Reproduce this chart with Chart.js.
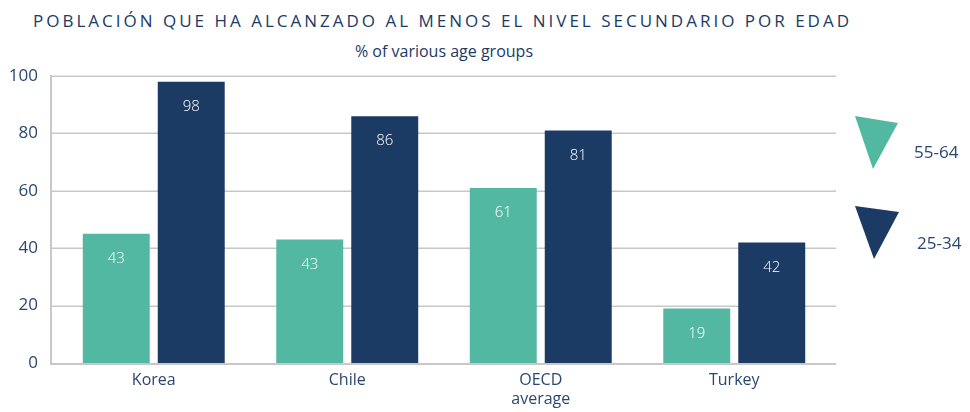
<!DOCTYPE html>
<html>
<head>
<meta charset="utf-8">
<script src="https://cdn.jsdelivr.net/npm/chart.js@4.4.1/dist/chart.umd.min.js"></script>
<style>
  html, body { margin:0; padding:0; background:#fff; }
  #wrap { position:relative; width:970px; height:412px; overflow:hidden; }
  #title { position:absolute; left:33px; top:9px; font-family:"Open Sans", sans-serif; font-size:17px; letter-spacing:3px; color:#1b3a64; white-space:nowrap; }
  #sub { position:absolute; left:0; width:888px; top:40px; text-align:center; font-family:"Open Sans", sans-serif; font-size:16px; color:#1b3a64; letter-spacing:0px; }
  canvas { position:absolute; left:0; top:0; }
</style>
</head>
<body>
<div id="wrap">
  <div id="title">POBLACIÓN QUE HA ALCANZADO AL MENOS EL NIVEL SECUNDARIO POR EDAD</div>
  <div id="sub">% of various age groups</div>
  <canvas id="c" width="970" height="412"></canvas>
</div>
<script>
const categories = ["Korea", "Chile", ["OECD", "average"], "Turkey"];
const seriesNames = ["55-64", "25-34"];
const values5564 = [45, 43, 61, 19];
const values2534 = [98, 86, 81, 42];
const labels5564 = ["43", "43", "61", "19"];
const labels2534 = ["98", "86", "81", "42"];
const yTicks = [0, 20, 40, 60, 80, 100];

const GREEN = "#53b8a1";
const NAVY = "#1b3a64";
const TEXT = "#2b4770";
const GRID = "#c8c8c8";
const FONT = '"Open Sans", sans-serif';
const AXIS_LEFT = 50, AXIS_RIGHT = 836;

const gridPlugin = {
  id: "extGrid",
  beforeDatasetsDraw(chart) {
    const ctx = chart.ctx;
    const y = chart.scales.y;
    ctx.save();
    ctx.strokeStyle = GRID;
    ctx.lineWidth = 1.5;
    yTicks.forEach(v => {
      if (v === 0) return;
      const py = Math.round(y.getPixelForValue(v)) + 0.25;
      ctx.beginPath();
      ctx.moveTo(AXIS_LEFT, py);
      ctx.lineTo(AXIS_RIGHT, py);
      ctx.stroke();
    });
    ctx.lineWidth = 2;
    const p0 = y.getPixelForValue(0);
    const p100 = y.getPixelForValue(100);
    ctx.beginPath();
    ctx.moveTo(AXIS_LEFT + 1, p100 - 1);
    ctx.lineTo(AXIS_LEFT + 1, p0 + 1);
    ctx.lineTo(AXIS_RIGHT, p0 + 1);
    ctx.stroke();
    ctx.restore();
  }
};

const barLabelPlugin = {
  id: "barLabels",
  afterDatasetsDraw(chart) {
    const ctx = chart.ctx;
    ctx.save();
    ctx.fillStyle = "#ffffff";
    ctx.font = "300 15px " + FONT;
    ctx.textAlign = "center";
    ctx.textBaseline = "middle";
    chart.data.datasets.forEach((ds, di) => {
      const meta = chart.getDatasetMeta(di);
      meta.data.forEach((bar, i) => {
        ctx.fillText(ds.valueLabels[i], bar.x, bar.y + 25);
      });
    });
    ctx.restore();
  }
};

const legendPlugin = {
  id: "triLegend",
  afterDraw(chart) {
    const ctx = chart.ctx;
    const items = [
      { color: GREEN, pts: [[855,116],[898,123],[873,169]], text: seriesNames[0], tx: 914, ty: 153 },
      { color: NAVY, pts: [[855,206],[899,212],[874,259]], text: seriesNames[1], tx: 917, ty: 244 }
    ];
    ctx.save();
    items.forEach(it => {
      ctx.fillStyle = it.color;
      ctx.beginPath();
      ctx.moveTo(it.pts[0][0], it.pts[0][1]);
      ctx.lineTo(it.pts[1][0], it.pts[1][1]);
      ctx.lineTo(it.pts[2][0], it.pts[2][1]);
      ctx.closePath();
      ctx.fill();
      ctx.fillStyle = TEXT;
      ctx.font = "17px " + FONT;
      ctx.textAlign = "left";
      ctx.textBaseline = "middle";
      ctx.fillText(it.text, it.tx, it.ty);
    });
    ctx.restore();
  }
};

new Chart(document.getElementById("c"), {
  type: "bar",
  data: {
    labels: categories,
    datasets: [
      { label: seriesNames[0], data: values5564, valueLabels: labels5564, backgroundColor: GREEN,
        categoryPercentage: 0.775, barPercentage: 0.893 },
      { label: seriesNames[1], data: values2534, valueLabels: labels2534, backgroundColor: NAVY,
        categoryPercentage: 0.775, barPercentage: 0.893 }
    ]
  },
  options: {
    responsive: false,
    animation: false,
    layout: { padding: { top: 76, right: 139, bottom: 0, left: 0 } },
    plugins: { legend: { display: false }, tooltip: { enabled: false } },
    scales: {
      x: {
        grid: { display: false, drawTicks: false },
        border: { display: false },
        ticks: { color: TEXT, font: { family: FONT, size: 16 }, padding: 8, maxRotation: 0 },
        afterFit(s) { s.height = 49; }
      },
      y: {
        min: 0, max: 100,
        afterBuildTicks(s) { s.ticks = yTicks.map(v => ({ value: v })); },
        grid: { display: false, drawTicks: false },
        border: { display: false },
        ticks: { color: TEXT, font: { family: FONT, size: 17 }, padding: 19 },
        afterFit(s) { s.width = 57; }
      }
    }
  },
  plugins: [gridPlugin, barLabelPlugin, legendPlugin]
});
</script>
</body>
</html>
